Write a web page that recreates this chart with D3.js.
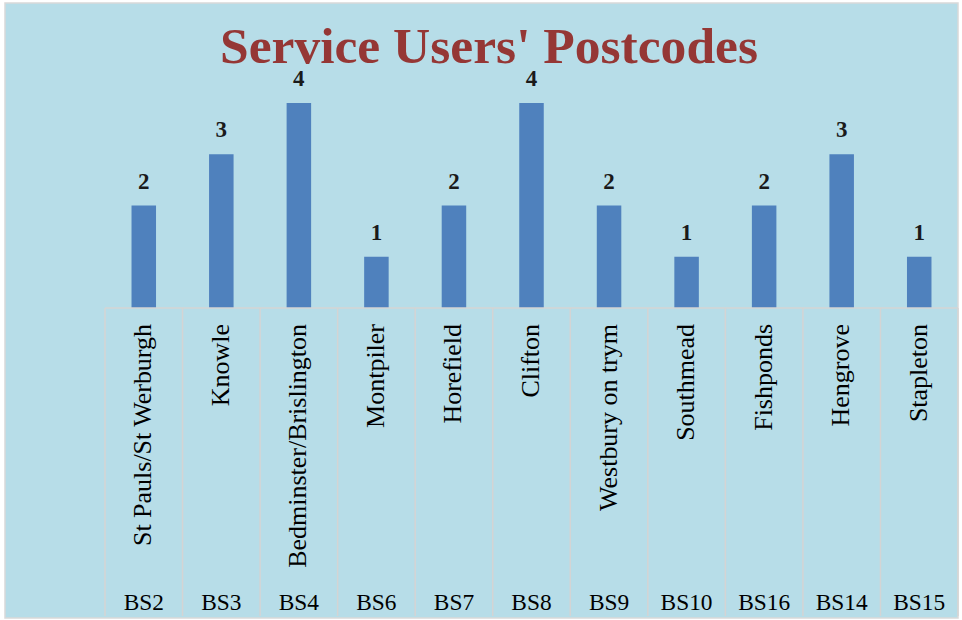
<!DOCTYPE html>
<html>
<head>
<meta charset="utf-8">
<script src="https://cdn.jsdelivr.net/npm/d3@7"></script>
<style>
  html, body { margin: 0; padding: 0; background: #ffffff; }
  svg { display: block; }
  text { font-family: "Liberation Serif", "DejaVu Serif", serif; }
</style>
</head>
<body>
<div id="chart"></div>
<script>
const areas = ['St Pauls/St Werburgh', 'Knowle', 'Bedminster/Brislington', 'Montpiler', 'Horefield',
  'Clifton', 'Westbury on trym', 'Southmead', 'Fishponds', 'Hengrove', 'Stapleton'];
const postcodes = ['BS2', 'BS3', 'BS4', 'BS6', 'BS7', 'BS8', 'BS9', 'BS10', 'BS16', 'BS14', 'BS15'];
const users = [2, 3, 4, 1, 2, 4, 2, 1, 2, 3, 1];

const width = 962, height = 620;
const bg = '#b7dde8', barColor = '#4f81bd', gridColor = '#d4d4d4';

const svg = d3.select('#chart').append('svg')
  .attr('width', width)
  .attr('height', height);

// chart area
svg.append('rect')
  .attr('x', 5).attr('y', 3)
  .attr('width', 953).attr('height', 615)
  .attr('fill', bg)
  .attr('stroke', '#d9d9d9')
  .attr('stroke-width', 1.5);

const left = 105, right = 958, axisY = 308, bottom = 616;

const keys = d3.range(users.length);
const x = d3.scaleBand()
  .domain(keys)
  .range([left, right])
  .paddingInner(0.684)
  .paddingOuter(0.342);

// slot boundaries for the two-level category axis
const slot = d3.scaleBand().domain(keys).range([left, right]);

const y = d3.scaleLinear()
  .domain([0, 4])
  .range([axisY, 103]);

// measure a string and return the font size that gives it the wanted width
function fitSize(str, size, weight, target) {
  const t = svg.append('text')
    .attr('font-size', size)
    .attr('font-weight', weight)
    .text(str);
  const w = t.node().getComputedTextLength();
  t.remove();
  return size * target / w;
}

const titleSize = fitSize("Service Users' Postcodes", 48, 'bold', 538);
const areaSize = fitSize('Bedminster/Brislington', 22, 'normal', 244);
const codeSize = fitSize('BS16', 22, 'normal', 52);

// title
svg.append('text')
  .attr('x', 489).attr('y', 63)
  .attr('text-anchor', 'middle')
  .attr('fill', '#953735')
  .attr('font-weight', 'bold')
  .attr('font-size', titleSize)
  .text("Service Users' Postcodes");

// bars
svg.append('g')
  .selectAll('rect')
  .data(keys)
  .join('rect')
    .attr('x', i => x(i))
    .attr('y', i => y(users[i]))
    .attr('width', x.bandwidth())
    .attr('height', i => y(0) - y(users[i]))
    .attr('fill', barColor);

// data labels
svg.append('g')
  .selectAll('text')
  .data(keys)
  .join('text')
    .attr('x', i => x(i) + x.bandwidth() / 2)
    .attr('y', i => y(users[i]) - 17)
    .attr('text-anchor', 'middle')
    .attr('font-weight', 'bold')
    .attr('font-size', 23)
    .attr('fill', '#1a1a1a')
    .text(i => users[i]);

// category axis: horizontal line and slot separators
const grid = svg.append('g')
  .attr('stroke', gridColor)
  .attr('stroke-width', 1.5);

grid.append('line')
  .attr('x1', left).attr('x2', right)
  .attr('y1', axisY).attr('y2', axisY);

grid.selectAll('line.sep')
  .data(d3.range(users.length + 1))
  .join('line')
    .attr('class', 'sep')
    .attr('x1', i => left + i * slot.step())
    .attr('x2', i => left + i * slot.step())
    .attr('y1', axisY).attr('y2', bottom);

// area names, rotated
svg.append('g')
  .selectAll('text')
  .data(keys)
  .join('text')
    .attr('transform', i => `translate(${slot(i) + slot.bandwidth() / 2 + 7.5},324) rotate(-90)`)
    .attr('text-anchor', 'end')
    .attr('font-size', areaSize)
    .attr('fill', '#000')
    .text(i => areas[i]);

// postcodes
svg.append('g')
  .selectAll('text')
  .data(keys)
  .join('text')
    .attr('x', i => slot(i) + slot.bandwidth() / 2)
    .attr('y', 609.5)
    .attr('text-anchor', 'middle')
    .attr('font-size', codeSize)
    .attr('fill', '#000')
    .text(i => postcodes[i]);
</script>
</body>
</html>
